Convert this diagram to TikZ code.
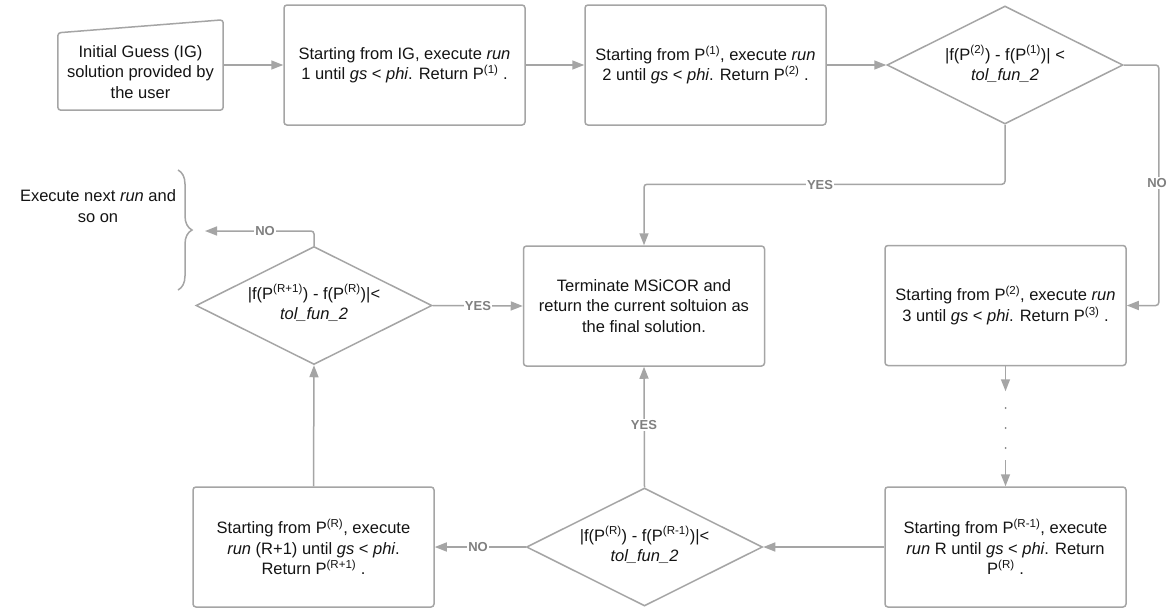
\documentclass[tikz,border=0pt]{standalone}
\usepackage{fontspec}
\setmainfont{Liberation Sans}
\usetikzlibrary{arrows.meta,shapes.geometric,decorations.pathreplacing,calc}
\definecolor{linec}{RGB}{165,165,165}
\definecolor{labc}{RGB}{128,128,128}
\definecolor{txtc}{RGB}{20,20,20}
\begin{document}
\begin{tikzpicture}[x=1pt,y=-1pt,
  every node/.style={font=\fontsize{16.5}{20.5}\selectfont, text=txtc},
  proc/.style={draw=linec, line width=1.5pt, rounded corners=3pt, minimum width=241pt, minimum height=120pt, align=center, inner sep=0pt},
  decision/.style={draw=linec, line width=1.5pt, diamond, minimum width=236pt, minimum height=118pt, inner sep=0pt},
  conn/.style={draw=linec, line width=1.5pt, -{Triangle[length=12pt,width=9pt]}, rounded corners=3pt},
  plainline/.style={draw=linec, line width=1.5pt},
  lab/.style={font=\fontsize{13}{13}\selectfont\bfseries, text=labc, fill=white, inner sep=1pt},
]
\fill[white] (0,0) rectangle (1171,611);
\useasboundingbox (0,0) rectangle (1171,611);

% initial guess (manual input shape)
\node[minimum width=165pt, minimum height=90pt, inner sep=0pt] (ig) at (140.5,65) {};
\draw[plainline, rounded corners=3pt] (ig.south west) -- (ig.south east) -- (ig.north east) -- ($(ig.north west)+(0,13)$) -- cycle;
\node[align=center] (igt) at (140.5,72) {Initial Guess (IG)\\solution provided by\\the user};

% process boxes
\node[proc] (b1) at (404.5,65) {Starting from IG, execute \textit{run}\\1 until \textit{gs} < \textit{phi}. Return P\textsuperscript{(1)} .};
\node[proc] (b2) at (705.5,65) {Starting from P\textsuperscript{(1)}, execute \textit{run}\\2 until \textit{gs} < \textit{phi}. Return P\textsuperscript{(2)} .};
\node[proc] (b3) at (1005.5,305.5) {Starting from P\textsuperscript{(2)}, execute \textit{run}\\3 until \textit{gs} < \textit{phi}. Return P\textsuperscript{(3)} .};
\node[proc] (term) at (644,306) {Terminate MSiCOR and\\return the current soltuion as\\the final solution.};
\node[proc] (b4) at (1005.5,547) {Starting from P\textsuperscript{(R-1)}, execute\\\textit{run} R until \textit{gs} < \textit{phi}. Return\\P\textsuperscript{(R)} .};
\node[proc] (r1) at (313.5,547) {Starting from P\textsuperscript{(R)}, execute\\\textit{run} (R+1) until \textit{gs} < \textit{phi}.\\Return P\textsuperscript{(R+1)} .};

% decisions
\node[decision] (d1) at (1005,65) {};
\node[align=center] (d1t) at (1005,64) {|f(P\textsuperscript{(2)}) - f(P\textsuperscript{(1)})| <\\\textit{tol\_fun\_2}};
\node[decision] (d2) at (314,305.5) {};
\node[align=center] (d2t) at (314,303) {|f(P\textsuperscript{(R+1)}) - f(P\textsuperscript{(R)})|<\\\textit{tol\_fun\_2}};
\node[decision] (d3) at (644.5,547) {};
\node[align=center] (d3t) at (644.5,545) {|f(P\textsuperscript{(R)}) - f(P\textsuperscript{(R-1)})|<\\\textit{tol\_fun\_2}};

% side note and brace
\node[align=center] (nxtt) at (98,206) {Execute next \textit{run} and\\so on};
\draw[plainline, decorate, decoration={brace, amplitude=14pt}] (178,170) -- (178,290);
\coordinate (nxt) at (205,231);

% connectors
\draw[conn] (ig.east) -- (b1.west);
\draw[conn] (b1.east) -- (b2.west);
\draw[conn] (b2.east) -- (d1.west);
\draw[conn] (d1.east) -| ($(b3.east)+(32,0)$) -- (b3.east);
\draw[conn] (d1.south) |- ($(term.north)+(0,-61)$) -- (term.north);
\draw[conn] (b3.south) -- ++(0,25);
\fill[labc] (1005.5,408) circle (1pt);
\fill[labc] (1005.5,428) circle (1pt);
\fill[labc] (1005.5,448) circle (1pt);
\coordinate (dotend) at (1005.5,460);
\draw[conn] (dotend) -- (b4.north);
\draw[conn] (b4.west) -- (d3.east);
\draw[conn] (d3.west) -- (r1.east);
\draw[conn] (d3.north) -- (term.south);
\draw[conn] (r1.north) -- (d2.south);
\draw[conn] (d2.east) -- (term.west);
\draw[conn] (d2.north) |- (nxt);

% labels
\node[lab] (no1) at (1157,183) {NO};
\node[lab] (yes1) at (820,185) {YES};
\node[lab] (no2) at (478,547) {NO};
\node[lab] (yes2) at (644,425) {YES};
\node[lab] (yes3) at (478,306) {YES};
\node[lab] (no3) at (265,231) {NO};
\end{tikzpicture}
\end{document}
